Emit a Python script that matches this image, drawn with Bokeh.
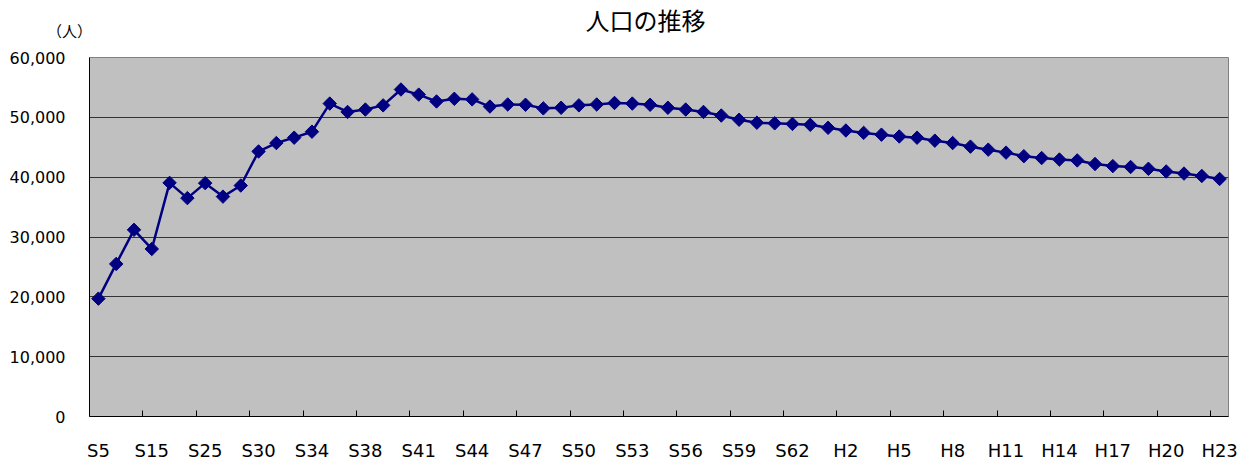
import numpy as np
from bokeh.plotting import figure
from bokeh.models import FixedTicker, NumeralTickFormatter, Range1d, Label, ColumnDataSource
from bokeh.embed import file_html
from bokeh.resources import INLINE

# Era labels (Showa / Heisei)
years = ["S5", "S10", "S13", "S15", "S20", "S22", "S25", "S27", "S29",
         "S30", "S31", "S33", "S34", "S35", "S37", "S38", "S39", "S40",
         "S41", "S42", "S43", "S44", "S45", "S46", "S47", "S48", "S49",
         "S50", "S51", "S52", "S53", "S54", "S55", "S56", "S57", "S58",
         "S59", "S60", "S61", "S62", "S63", "H1", "H2", "H3", "H4", "H5",
         "H6", "H7", "H8", "H9", "H10", "H11", "H12", "H13", "H14", "H15",
         "H16", "H17", "H18", "H19", "H20", "H21", "H22", "H23"]

population = [19700, 25500, 31200, 28000, 39050, 36500, 39000, 36750, 38600,
              44300, 45700, 46600, 47600, 52300, 50900, 51300, 52000, 54650,
              53800, 52650, 53100, 53000, 51800, 52150, 52100, 51500, 51600,
              52000, 52150, 52400, 52300, 52100, 51600, 51300, 50900, 50300,
              49600, 49100, 49000, 48900, 48750, 48250, 47800, 47400, 47100,
              46800, 46600, 46100, 45700, 45100, 44600, 44100, 43500, 43200,
              42950, 42800, 42200, 41850, 41700, 41400, 40950, 40600, 40200,
              39700]

y_ticks = [0, 10000, 20000, 30000, 40000, 50000, 60000]
title_text = "人口の推移"
unit_text = "（人）"

idx = list(range(len(years)))
src = ColumnDataSource(dict(x=idx, y=population))

label_idx = idx[::3]
boundary_ticks = [i + 2.5 for i in idx[::3]][:-1]

p = figure(width=1240, height=463, output_backend="svg", toolbar_location=None,
           x_range=Range1d(-0.5, len(years) - 0.5), y_range=Range1d(0, 60000),
           min_border_left=89, min_border_right=12, min_border_top=57, min_border_bottom=47)

p.border_fill_color = "white"
p.background_fill_color = "#C0C0C0"
p.outline_line_color = "#808080"
p.outline_line_width = 1

p.line("x", "y", source=src, line_color="#000080", line_width=2.5)
p.scatter("x", "y", source=src, marker="square", angle=np.pi / 4, size=9.5,
          fill_color="#000080", line_color="#000080")

# x axis
xa = p.xaxis[0]
xa.ticker = FixedTicker(ticks=label_idx, minor_ticks=boundary_ticks)
xa.major_label_overrides = {i: years[i] for i in label_idx}
xa.major_tick_line_color = None
xa.minor_tick_in = 6
xa.minor_tick_out = 0
xa.minor_tick_line_color = "black"
xa.axis_line_color = "black"
xa.axis_line_width = 1
xa.major_label_text_font = "DejaVu Sans"
xa.major_label_text_font_size = "18px"
xa.major_label_text_color = "black"
xa.major_label_standoff = 17

# y axis
ya = p.yaxis[0]
ya.ticker = FixedTicker(ticks=y_ticks)
ya.formatter = NumeralTickFormatter(format="0,0")
ya.major_tick_in = 0
ya.major_tick_out = 0
ya.minor_tick_line_color = None
ya.axis_line_color = "black"
ya.major_label_text_font = "DejaVu Sans"
ya.major_label_text_font_size = "16px"
ya.major_label_text_color = "black"
ya.major_label_standoff = 24

p.xgrid.grid_line_color = None
p.ygrid.grid_line_color = "#333333"
p.ygrid.grid_line_width = 1

p.title = None
p.add_layout(Label(x=556, y=38, x_units="screen", y_units="screen", text=title_text,
                   text_align="center", text_baseline="middle",
                   text_font="Noto Sans CJK JP", text_font_size="24px", text_color="black"),
             "above")
p.add_layout(Label(x=-20, y=-8, x_units="screen", y_units="screen", text=unit_text,
                   text_align="center", text_baseline="middle",
                   text_font="Noto Sans CJK JP", text_font_size="15px", text_color="black"),
             "above")

open("out.html", "w").write(file_html(p, INLINE))
